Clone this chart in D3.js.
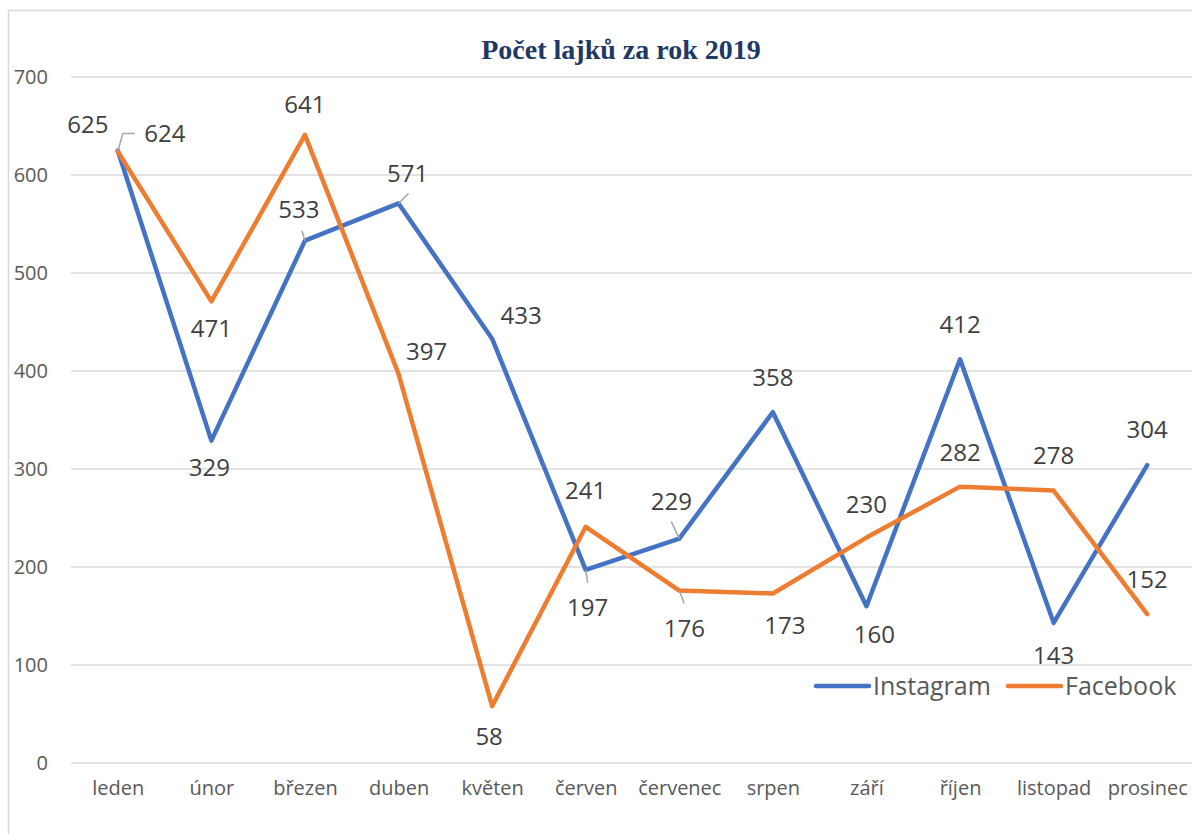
<!DOCTYPE html>
<html>
<head>
<meta charset="utf-8">
<script src="https://cdn.jsdelivr.net/npm/d3@7"></script>
<style>
  body { margin: 0; background: #fff; }
  svg { display: block; }
</style>
</head>
<body>
<div id="chart"></div>
<script>
// Data
const months = ["leden", "únor", "březen", "duben", "květen", "červen",
    "červenec", "srpen", "září", "říjen", "listopad", "prosinec"];
const instagram = [625, 329, 533, 571, 433, 197, 229, 358, 160, 412, 143, 304];
const facebook = [624, 471, 641, 397, 58, 241, 176, 173, 230, 282, 278, 152];
const yTicks = [0, 100, 200, 300, 400, 500, 600, 700];

// Label placement (pixel offsets from the point)
const instaOffsets = [[-30, -26], [-2, 27], [-6, -31], [9, -30], [29, -23], [2, 37],
    [-8, -37], [0, -35], [8, 28], [0, -35], [0, 32], [0, -36]];
const fbOffsets = [[47, -18], [0, 27], [0, -30], [28, -23], [-3, 30], [0, -36],
    [5, 38], [12, 32], [0, -33], [0, -34], [0, -35], [0, -35]];
const instaLeaders = { 2: [[0, 0], [-3, -10]], 3: [[0, 0], [10, -10]], 5: [[0, 0], [2, 13]], 6: [[0, 0], [-8, -17]] };
const fbLeaders = { 0: [[0, 0], [5, -18], [17, -18]], 6: [[0, 0], [5, 13]] };

const W = 1192, H = 834;
const blue = "#4472C4", orange = "#ED7D31";
const font = "'Open Sans', 'DejaVu Sans', sans-serif";

const svg = d3.select("#chart").append("svg")
    .attr("width", W)
    .attr("height", H);

// chart border (cropped on right and bottom)
svg.append("rect")
    .attr("x", 8.5).attr("y", 10.5)
    .attr("width", W + 20).attr("height", H + 20)
    .style("fill", "#fff")
    .style("stroke", "#D9D9D9")
    .style("stroke-width", "1.5px");

const x = d3.scalePoint()
    .domain(months)
    .range([71, 1194])
    .padding(0.5);

const y = d3.scaleLinear()
    .domain([0, 700])
    .range([763, 77]);

// Title
svg.append("text")
    .attr("x", 621)
    .attr("y", 59)
    .attr("text-anchor", "middle")
    .style("font-family", "'Liberation Serif', 'Times New Roman', serif")
    .style("font-weight", "bold")
    .style("font-size", "28px")
    .style("fill", "#203864")
    .text("Počet lajků za rok 2019");

// Gridlines
svg.append("g").selectAll("line")
    .data(yTicks)
    .enter()
    .append("line")
    .attr("x1", 71)
    .attr("x2", W)
    .attr("y1", d => y(d))
    .attr("y2", d => y(d))
    .style("stroke", "#D9D9D9")
    .style("stroke-width", "1.5px");

// Y axis labels
const yAxis = svg.append("g")
    .attr("transform", "translate(56,0)")
    .call(d3.axisLeft(y).tickValues(yTicks).tickSize(0).tickPadding(8));
yAxis.select(".domain").remove();
yAxis.selectAll("text")
    .style("font-family", font)
    .style("font-size", "20px")
    .style("fill", "#595959");

// X axis labels
const xAxis = svg.append("g")
    .attr("transform", "translate(0,763)")
    .call(d3.axisBottom(x).tickSize(0).tickPadding(18));
xAxis.select(".domain").remove();
xAxis.selectAll("text")
    .style("font-family", font)
    .style("font-size", "20px")
    .style("fill", "#595959");

const line = d3.line()
    .x((d, i) => x(months[i]))
    .y(d => y(d));

function drawSeries(values, color, offsets, leaders) {
    svg.append("path")
        .datum(values)
        .attr("d", line)
        .style("fill", "none")
        .style("stroke", color)
        .style("stroke-width", "4.5px")
        .style("stroke-linejoin", "round")
        .style("stroke-linecap", "round");

    // leader lines
    Object.keys(leaders).forEach(k => {
        const i = +k;
        const px = x(months[i]), py = y(values[i]);
        svg.append("polyline")
            .attr("points", leaders[k].map(p => (px + p[0]) + "," + (py + p[1])).join(" "))
            .style("fill", "none")
            .style("stroke", "#A6A6A6")
            .style("stroke-width", "1.5px");
    });

    svg.append("g").selectAll("text")
        .data(values)
        .enter()
        .append("text")
        .attr("x", (d, i) => x(months[i]) + offsets[i][0])
        .attr("y", (d, i) => y(d) + offsets[i][1])
        .attr("dy", "0.36em")
        .attr("text-anchor", "middle")
        .style("font-family", font)
        .style("font-size", "24px")
        .style("fill", "#404040")
        .text(d => d);
}

drawSeries(instagram, blue, instaOffsets, instaLeaders);
drawSeries(facebook, orange, fbOffsets, fbLeaders);

// Legend
const legend = [
    { name: "Instagram", color: blue, x: 816 },
    { name: "Facebook", color: orange, x: 1008 }
];
const lg = svg.append("g").selectAll("g")
    .data(legend)
    .enter()
    .append("g")
    .attr("transform", d => `translate(${d.x},686)`);
lg.append("line")
    .attr("x1", 0).attr("x2", 53)
    .attr("y1", 0).attr("y2", 0)
    .style("stroke", d => d.color)
    .style("stroke-width", "4.5px")
    .style("stroke-linecap", "round");
lg.append("text")
    .attr("x", 57)
    .attr("dy", "0.36em")
    .style("font-family", font)
    .style("font-size", "25px")
    .style("fill", "#595959")
    .text(d => d.name);
</script>
</body>
</html>
